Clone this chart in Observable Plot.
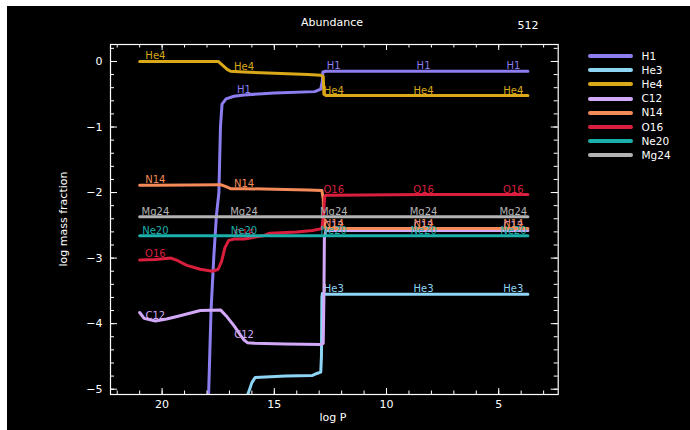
<!DOCTYPE html>
<html><head><meta charset="utf-8">
<script src="https://cdn.jsdelivr.net/npm/d3@7"></script>
<script src="https://cdn.jsdelivr.net/npm/@observablehq/plot@0.6"></script>
<style>
html,body{margin:0;padding:0;background:#fff;width:690px;height:430px;overflow:hidden;}
#wrap{position:absolute;left:7px;top:6px;width:683px;height:424px;background:#000;}
#wrap svg{position:absolute;left:0;top:0;}
.t{position:absolute;color:#fff;font-family:"DejaVu Sans",sans-serif;white-space:nowrap;line-height:1;}
.c{transform:translate(-50%,-50%);}
.leg{position:absolute;height:4px;border-radius:2px;}
</style></head><body>
<div id="wrap"></div>
<script>
// ---- data ----
const seriesNames = ["H1","He3","He4","C12","N14","O16","Ne20","Mg24"];
const seriesColors = ["#8c7ef0","#8ed4f4","#d9a919","#d2a8f8","#f48a58","#d91f3d","#1cb0ac","#b3b3b3"];
const labelX = [20.3, 16.35, 12.35, 8.35, 4.35];
const xMajorTicks = [20, 15, 10, 5];
const yMajorTicks = [-5, -4, -3, -2, -1, 0];

const H1 = [[17.93,-5.1],[17.82,-3.8],[17.7,-3.0],[17.58,-2.35],[17.47,-2.0],[17.4,-1.0],[17.33,-0.65],[17.15,-0.57],[16.8,-0.53],[16.35,-0.51],[15.0,-0.48],[13.2,-0.46],[12.93,-0.42],[12.86,-0.3],[12.84,-0.16],[12.7,-0.15],[12.35,-0.15],[8.35,-0.15],[4.35,-0.15],[3.7,-0.15]];
const He3 = [[16.2,-5.1],[16.0,-4.9],[15.85,-4.82],[14.5,-4.8],[13.3,-4.79],[13.1,-4.76],[12.93,-4.74],[12.9,-4.5],[12.88,-3.6],[12.86,-3.54],[12.7,-3.55],[12.35,-3.55],[8.35,-3.55],[4.35,-3.55],[3.7,-3.55]];
const He4 = [[21.0,0.0],[20.3,0.0],[17.5,0.0],[17.3,-0.06],[17.1,-0.12],[16.95,-0.15],[16.35,-0.16],[15.0,-0.18],[13.5,-0.2],[12.93,-0.21],[12.82,-0.23],[12.79,-0.5],[12.7,-0.52],[12.35,-0.52],[8.35,-0.52],[4.35,-0.52],[3.7,-0.52]];
const C12 = [[21.0,-3.83],[20.8,-3.92],[20.3,-3.96],[19.8,-3.93],[19.2,-3.88],[18.3,-3.8],[17.4,-3.79],[17.1,-3.9],[16.8,-4.03],[16.5,-4.18],[16.35,-4.25],[16.2,-4.29],[15.9,-4.3],[14.5,-4.31],[12.93,-4.32],[12.82,-4.3],[12.79,-3.6],[12.77,-2.7],[12.7,-2.58],[12.35,-2.58],[8.35,-2.58],[4.35,-2.58],[3.7,-2.58]];
const N14 = [[21.0,-1.89],[20.3,-1.89],[17.4,-1.88],[17.15,-1.91],[16.95,-1.94],[16.35,-1.94],[15.0,-1.95],[13.5,-1.96],[12.88,-1.97],[12.82,-2.1],[12.79,-2.5],[12.7,-2.55],[12.35,-2.55],[8.35,-2.55],[4.35,-2.55],[3.7,-2.55]];
const O16 = [[21.0,-3.03],[20.3,-3.02],[19.6,-3.0],[19.3,-3.04],[18.9,-3.11],[18.3,-3.17],[17.75,-3.2],[17.5,-3.17],[17.35,-3.05],[17.2,-2.84],[17.03,-2.73],[16.8,-2.71],[16.35,-2.71],[16.2,-2.7],[15.5,-2.66],[15.2,-2.62],[14.0,-2.6],[13.3,-2.58],[12.88,-2.55],[12.8,-2.3],[12.76,-2.07],[12.7,-2.04],[12.35,-2.04],[8.35,-2.03],[4.35,-2.03],[3.7,-2.03]];
const Ne20 = [[21.0,-2.66],[20.3,-2.66],[16.35,-2.66],[12.35,-2.66],[8.35,-2.66],[4.35,-2.66],[3.7,-2.66]];
const Mg24 = [[21.0,-2.37],[20.3,-2.37],[16.35,-2.37],[12.35,-2.37],[8.35,-2.37],[4.35,-2.37],[3.7,-2.37]];

const seriesData = [H1, He3, He4, C12, N14, O16, Ne20, Mg24];

// ---- layout ----
const W = 683, H = 424, mL = 103, mR = 132.3, mT = 38, mB = 36;
const innerW = W - mL - mR, innerH = H - mT - mB;
const xMinor = d3.range(3, 23);
const yMinor = d3.range(-25, 2).map(i => +(i * 0.2).toFixed(1));
const fmt = d => d < 0 ? "\u2212" + (-d) : String(d);

const seriesMarks = seriesData.flatMap((pts, i) => {
  const labs = pts.filter(p => labelX.includes(p[0]));
  return [
    Plot.line(pts, {x: d => d[0], y: d => d[1], stroke: seriesColors[i], strokeWidth: 3, strokeLinejoin: "round", strokeLinecap: "round", clip: true}),
    Plot.text(labs, {x: d => d[0], y: d => d[1], text: () => seriesNames[i], fill: seriesColors[i], textAnchor: "middle", lineAnchor: "bottom", dy: -2, fontSize: 10})
  ];
});

const chart = Plot.plot({
  width: W, height: H,
  marginLeft: mL, marginRight: mR, marginTop: mT, marginBottom: mB,
  style: {background: "transparent", color: "#fff", fontFamily: "DejaVu Sans, sans-serif", fontSize: "11px"},
  x: {domain: [22.3, 2.35]},
  y: {domain: [-5.081, 0.259]},
  marks: [
    ...seriesMarks,
    Plot.frame({stroke: "#fff", strokeWidth: 1.2}),
    Plot.tickX(xMinor, {x: d => d, stroke: "#fff", insetTop: innerH - 3.5}),
    Plot.tickX(xMinor, {x: d => d, stroke: "#fff", insetBottom: innerH - 3.5}),
    Plot.tickX(xMajorTicks, {x: d => d, stroke: "#fff", insetTop: innerH - 6}),
    Plot.tickX(xMajorTicks, {x: d => d, stroke: "#fff", insetBottom: innerH - 6}),
    Plot.tickY(yMinor, {y: d => d, stroke: "#fff", insetRight: innerW - 4}),
    Plot.tickY(yMinor, {y: d => d, stroke: "#fff", insetLeft: innerW - 4}),
    Plot.tickY(yMajorTicks, {y: d => d, stroke: "#fff", insetRight: innerW - 7}),
    Plot.tickY(yMajorTicks, {y: d => d, stroke: "#fff", insetLeft: innerW - 7}),
    Plot.axisX({ticks: xMajorTicks, tickSize: 0, tickPadding: 6, label: null, fontSize: 11}),
    Plot.axisY({ticks: yMajorTicks, tickSize: 0, tickPadding: 8, label: null, tickFormat: fmt, fontSize: 11})
  ]
});
const wrap = document.getElementById("wrap");
wrap.appendChild(chart);

// ---- overlay texts (page coordinates minus wrap offset) ----
function addText(txt, x, y, size, extra) {
  const d = document.createElement("div");
  d.className = "t c";
  d.textContent = txt;
  d.style.left = (x - 7) + "px";
  d.style.top = (y - 6) + "px";
  d.style.fontSize = size + "px";
  if (extra) d.style.transform = extra;
  wrap.appendChild(d);
}
addText("Abundance", 332, 22, 11);
addText("512", 528, 25, 11);
addText("log P", 333, 417, 11);
addText("log mass fraction", 63, 219, 11, "translate(-50%,-50%) rotate(-90deg)");

// legend
seriesNames.forEach((n, i) => {
  const y = 56 + i * 14.2;
  const ln = document.createElement("div");
  ln.className = "leg";
  ln.style.left = (588 - 7) + "px";
  ln.style.width = "45px";
  ln.style.top = (y - 2 - 6) + "px";
  ln.style.background = seriesColors[i];
  wrap.appendChild(ln);
  const t = document.createElement("div");
  t.className = "t";
  t.textContent = n;
  t.style.fontSize = "10.5px";
  t.style.left = (641.5 - 7) + "px";
  t.style.top = (y - 6 - 5.5) + "px";
  wrap.appendChild(t);
});
</script>
</body></html>
